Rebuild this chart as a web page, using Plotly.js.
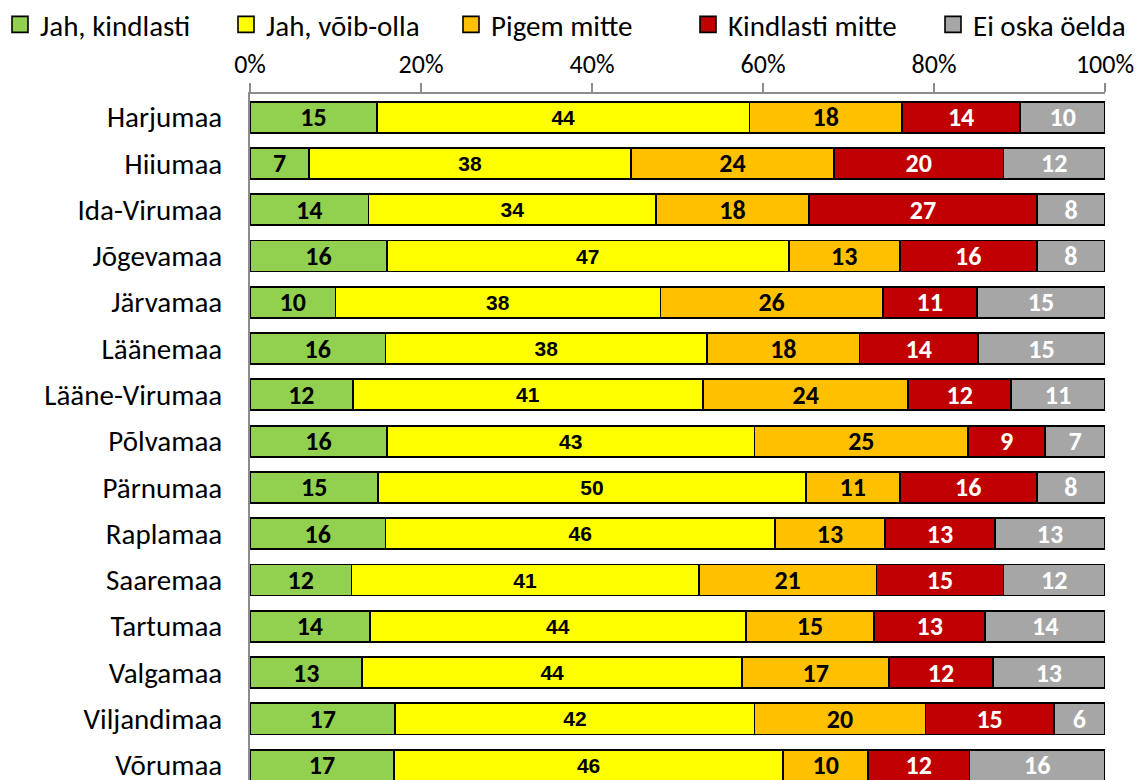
<!DOCTYPE html>
<html>
<head>
<meta charset="utf-8">
<script src="https://cdn.plot.ly/plotly-3.0.1.min.js"></script>
<style>html,body{margin:0;padding:0;background:#fff;}#chart{width:1142px;height:780px;}</style>
</head>
<body>
<div id="chart"></div>
<script>
const regions = ["Harjumaa","Hiiumaa","Ida-Virumaa","Jõgevamaa","Järvamaa","Läänemaa","Lääne-Virumaa","Põlvamaa","Pärnumaa","Raplamaa","Saaremaa","Tartumaa","Valgamaa","Viljandimaa","Võrumaa"];
const seriesNames = ["Jah, kindlasti","Jah, võib-olla","Pigem mitte","Kindlasti mitte","Ei oska öelda"];
const jahKindlasti   = [15, 7,14,16,10,16,12,16,15,16,12,14,13,17,17];
const jahVoibOlla    = [44,38,34,47,38,38,41,43,50,46,41,44,44,42,46];
const pigemMitte     = [18,24,18,13,26,18,24,25,11,13,21,15,17,20,10];
const kindlastiMitte = [14,20,27,16,11,14,12, 9,16,13,15,13,12,15,12];
const eiOskaOelda    = [10,12, 8, 8,15,15,11, 7, 8,13,12,14,13, 6,16];
const tickValues = [0,20,40,60,80,100];
const tickLabels = ["0%","20%","40%","60%","80%","100%"];

const colors = ["#92D050","#FFFF00","#FFC000","#C00000","#A6A6A6"];
const textColors = ["#000000","#000000","#000000","#FFFFFF","#FFFFFF"];
const FONT = 'Carlito, Lato, sans-serif';
const textFonts = [FONT,"Liberation Sans, Arial, sans-serif",FONT,FONT,FONT];
const textSizes = [26,21,26,26,26];
const allSeries = [jahKindlasti, jahVoibOlla, pigemMitte, kindlastiMitte, eiOskaOelda];
const legendTextStart = [37, 263, 488, 725, 970];
const legendKeys = ['legend','legend2','legend3','legend4','legend5'];

const barTraces = allSeries.map((vals, i) => ({
  type: 'bar',
  orientation: 'h',
  name: seriesNames[i],
  y: regions,
  x: vals,
  text: vals.map(String),
  texttemplate: '%{text}',
  textposition: 'inside',
  insidetextanchor: 'middle',
  textangle: 0,
  constraintext: 'none',
  textfont: {family: textFonts[i], size: textSizes[i], color: textColors[i], weight: 'bold'},
  marker: {color: colors[i], line: {color: '#000000', width: 1.8}},
  showlegend: false,
  hoverinfo: 'skip'
}));
const legendTraces = seriesNames.map((name, i) => ({
  type: 'scatter', mode: 'markers', name: name,
  x: [null], y: [null],
  marker: {symbol: 'square', size: 16, color: colors[i], line: {color: '#000000', width: 1.6}},
  showlegend: true, legend: legendKeys[i], hoverinfo: 'skip'
}));

const layout = {
  width: 1142, height: 780,
  margin: {l: 250, r: 37, t: 94, b: 0, pad: 0, autoexpand: false},
  paper_bgcolor: '#ffffff', plot_bgcolor: '#ffffff',
  barmode: 'stack',
  barnorm: 'percent',
  bargap: 0.33,
  font: {family: FONT, size: 26, color: '#000000'},
  xaxis: {
    side: 'top', range: [0, 100], tickvals: tickValues, ticktext: tickLabels,
    showgrid: false, zeroline: false, showline: true, linecolor: '#8C8C8C', linewidth: 2,
    ticks: 'outside', ticklen: 9, tickwidth: 2, tickcolor: '#8C8C8C',
    tickfont: {size: 26, family: FONT}, ticklabelstandoff: 0, fixedrange: true, automargin: false
  },
  yaxis: {
    type: 'category', categoryarray: regions, range: [14.32, -0.5], showgrid: false, zeroline: false,
    showline: true, linecolor: '#8C8C8C', linewidth: 2,
    ticks: 'outside', ticklen: 20, tickcolor: 'rgba(0,0,0,0)',
    tickfont: {size: 29, family: FONT}, fixedrange: true, automargin: false
  },
  showlegend: true
};
legendKeys.forEach((k, i) => {
  layout[k] = {
    orientation: 'h', xref: 'paper', yref: 'paper',
    x: (legendTextStart[i] - 37 - 250) / 855, xanchor: 'left', y: 1 + (94 + 1) / 686, yanchor: 'top',
    font: {size: 29, family: FONT, color: '#000'},
    bgcolor: 'rgba(0,0,0,0)', borderwidth: 0, itemclick: false, itemdoubleclick: false
  };
});

Plotly.newPlot('chart', barTraces.concat(legendTraces), layout, {displayModeBar: false, staticPlot: true});
</script>
</body>
</html>
